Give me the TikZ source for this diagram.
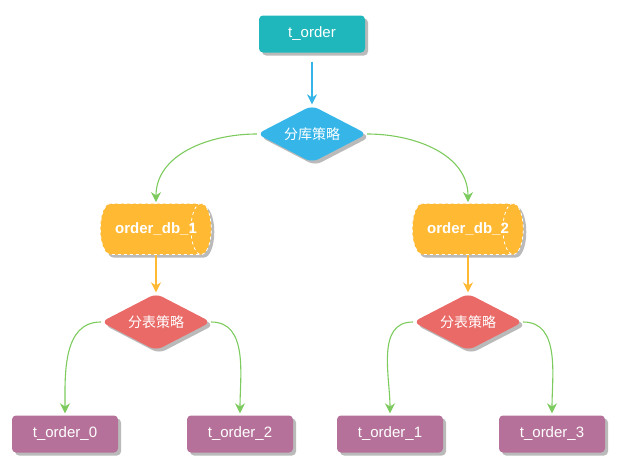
\documentclass[tikz,border=0pt]{standalone}
\usepackage{fontspec}
\setmainfont{Liberation Sans}
\newfontfamily\cjk{Noto Sans CJK SC}
\usetikzlibrary{shapes.geometric,shadows,arrows.meta}
\definecolor{cteal}{HTML}{1FB7BC}
\definecolor{cblue}{HTML}{35B5E8}
\definecolor{corange}{HTML}{FFB932}
\definecolor{cred}{HTML}{E96A66}
\definecolor{cpurple}{HTML}{B57199}
\definecolor{cgreen}{HTML}{7DCB5E}
\tikzset{
  sh/.style={drop shadow={shadow xshift=3pt,shadow yshift=-3pt,fill=black!45,opacity=.6}},
  boxnode/.style={rectangle,rounded corners=4pt,minimum width=106pt,minimum height=37pt,inner sep=0pt,text=white,font=\fontsize{15}{17}\selectfont,sh},
  dia/.style={diamond,aspect=1.93,minimum width=110pt,minimum height=57pt,inner sep=0pt,rounded corners=7pt,text=white,font=\cjk\fontsize{14}{16}\selectfont,sh},
  cyl/.style={cylinder,shape aspect=1.6,minimum width=51pt,minimum height=111pt,inner sep=0pt,fill=corange,draw=white,dashed,line width=0.8pt,text=white,font=\bfseries\fontsize{15}{17}\selectfont,sh,shape border rotate=0},
  arr/.style={-{Stealth[length=10pt,width=10pt]},line width=1.1pt},
}
\begin{document}
\begin{tikzpicture}[x=1pt,y=-1pt]
\useasboundingbox (0,0) rectangle (621,471);
\node[boxnode,fill=cteal] (top) at (312,34) {t\_order};
\node[dia,fill=cblue] (d0) at (312,134) {分库策略};
\node[cyl] (c1) at (150.5,229) {\makebox[0pt]{\hspace{11pt}order\_db\_1}};
\node[cyl] (c2) at (462.5,229) {\makebox[0pt]{\hspace{11pt}order\_db\_2}};
\node[dia,fill=cred] (d1) at (156,322) {分表策略};
\node[dia,fill=cred] (d2) at (468,322) {分表策略};
\node[boxnode,fill=cpurple] (l0) at (65,434) {t\_order\_0};
\node[boxnode,fill=cpurple] (l2) at (240,434) {t\_order\_2};
\node[boxnode,fill=cpurple] (l1) at (390,434) {t\_order\_1};
\node[boxnode,fill=cpurple] (l3) at (552,434) {t\_order\_3};
\draw[arr,cblue] ([yshift=-9pt]top.south) -- ([yshift=1pt]d0.north);
\draw[arr,cgreen] (d0.west) to[out=180,in=90] ([xshift=5.5pt,yshift=1pt]c1.north);
\draw[arr,cgreen] (d0.east) to[out=0,in=90] ([xshift=5.5pt,yshift=1pt]c2.north);
\draw[arr,corange] ([xshift=5.5pt]c1.south) -- ([yshift=1pt]d1.north);
\draw[arr,corange] ([xshift=5.5pt]c2.south) -- ([yshift=1pt]d2.north);
\draw[arr,cgreen] (d1.west) to[out=180,in=90] ([yshift=2pt]l0.north);
\draw[arr,cgreen] (d1.east) to[out=0,in=90] ([yshift=2pt]l2.north);
\draw[arr,cgreen] (d2.west) to[out=180,in=90] ([yshift=2pt]l1.north);
\draw[arr,cgreen] (d2.east) to[out=0,in=90] ([yshift=2pt]l3.north);
\end{tikzpicture}
\end{document}
